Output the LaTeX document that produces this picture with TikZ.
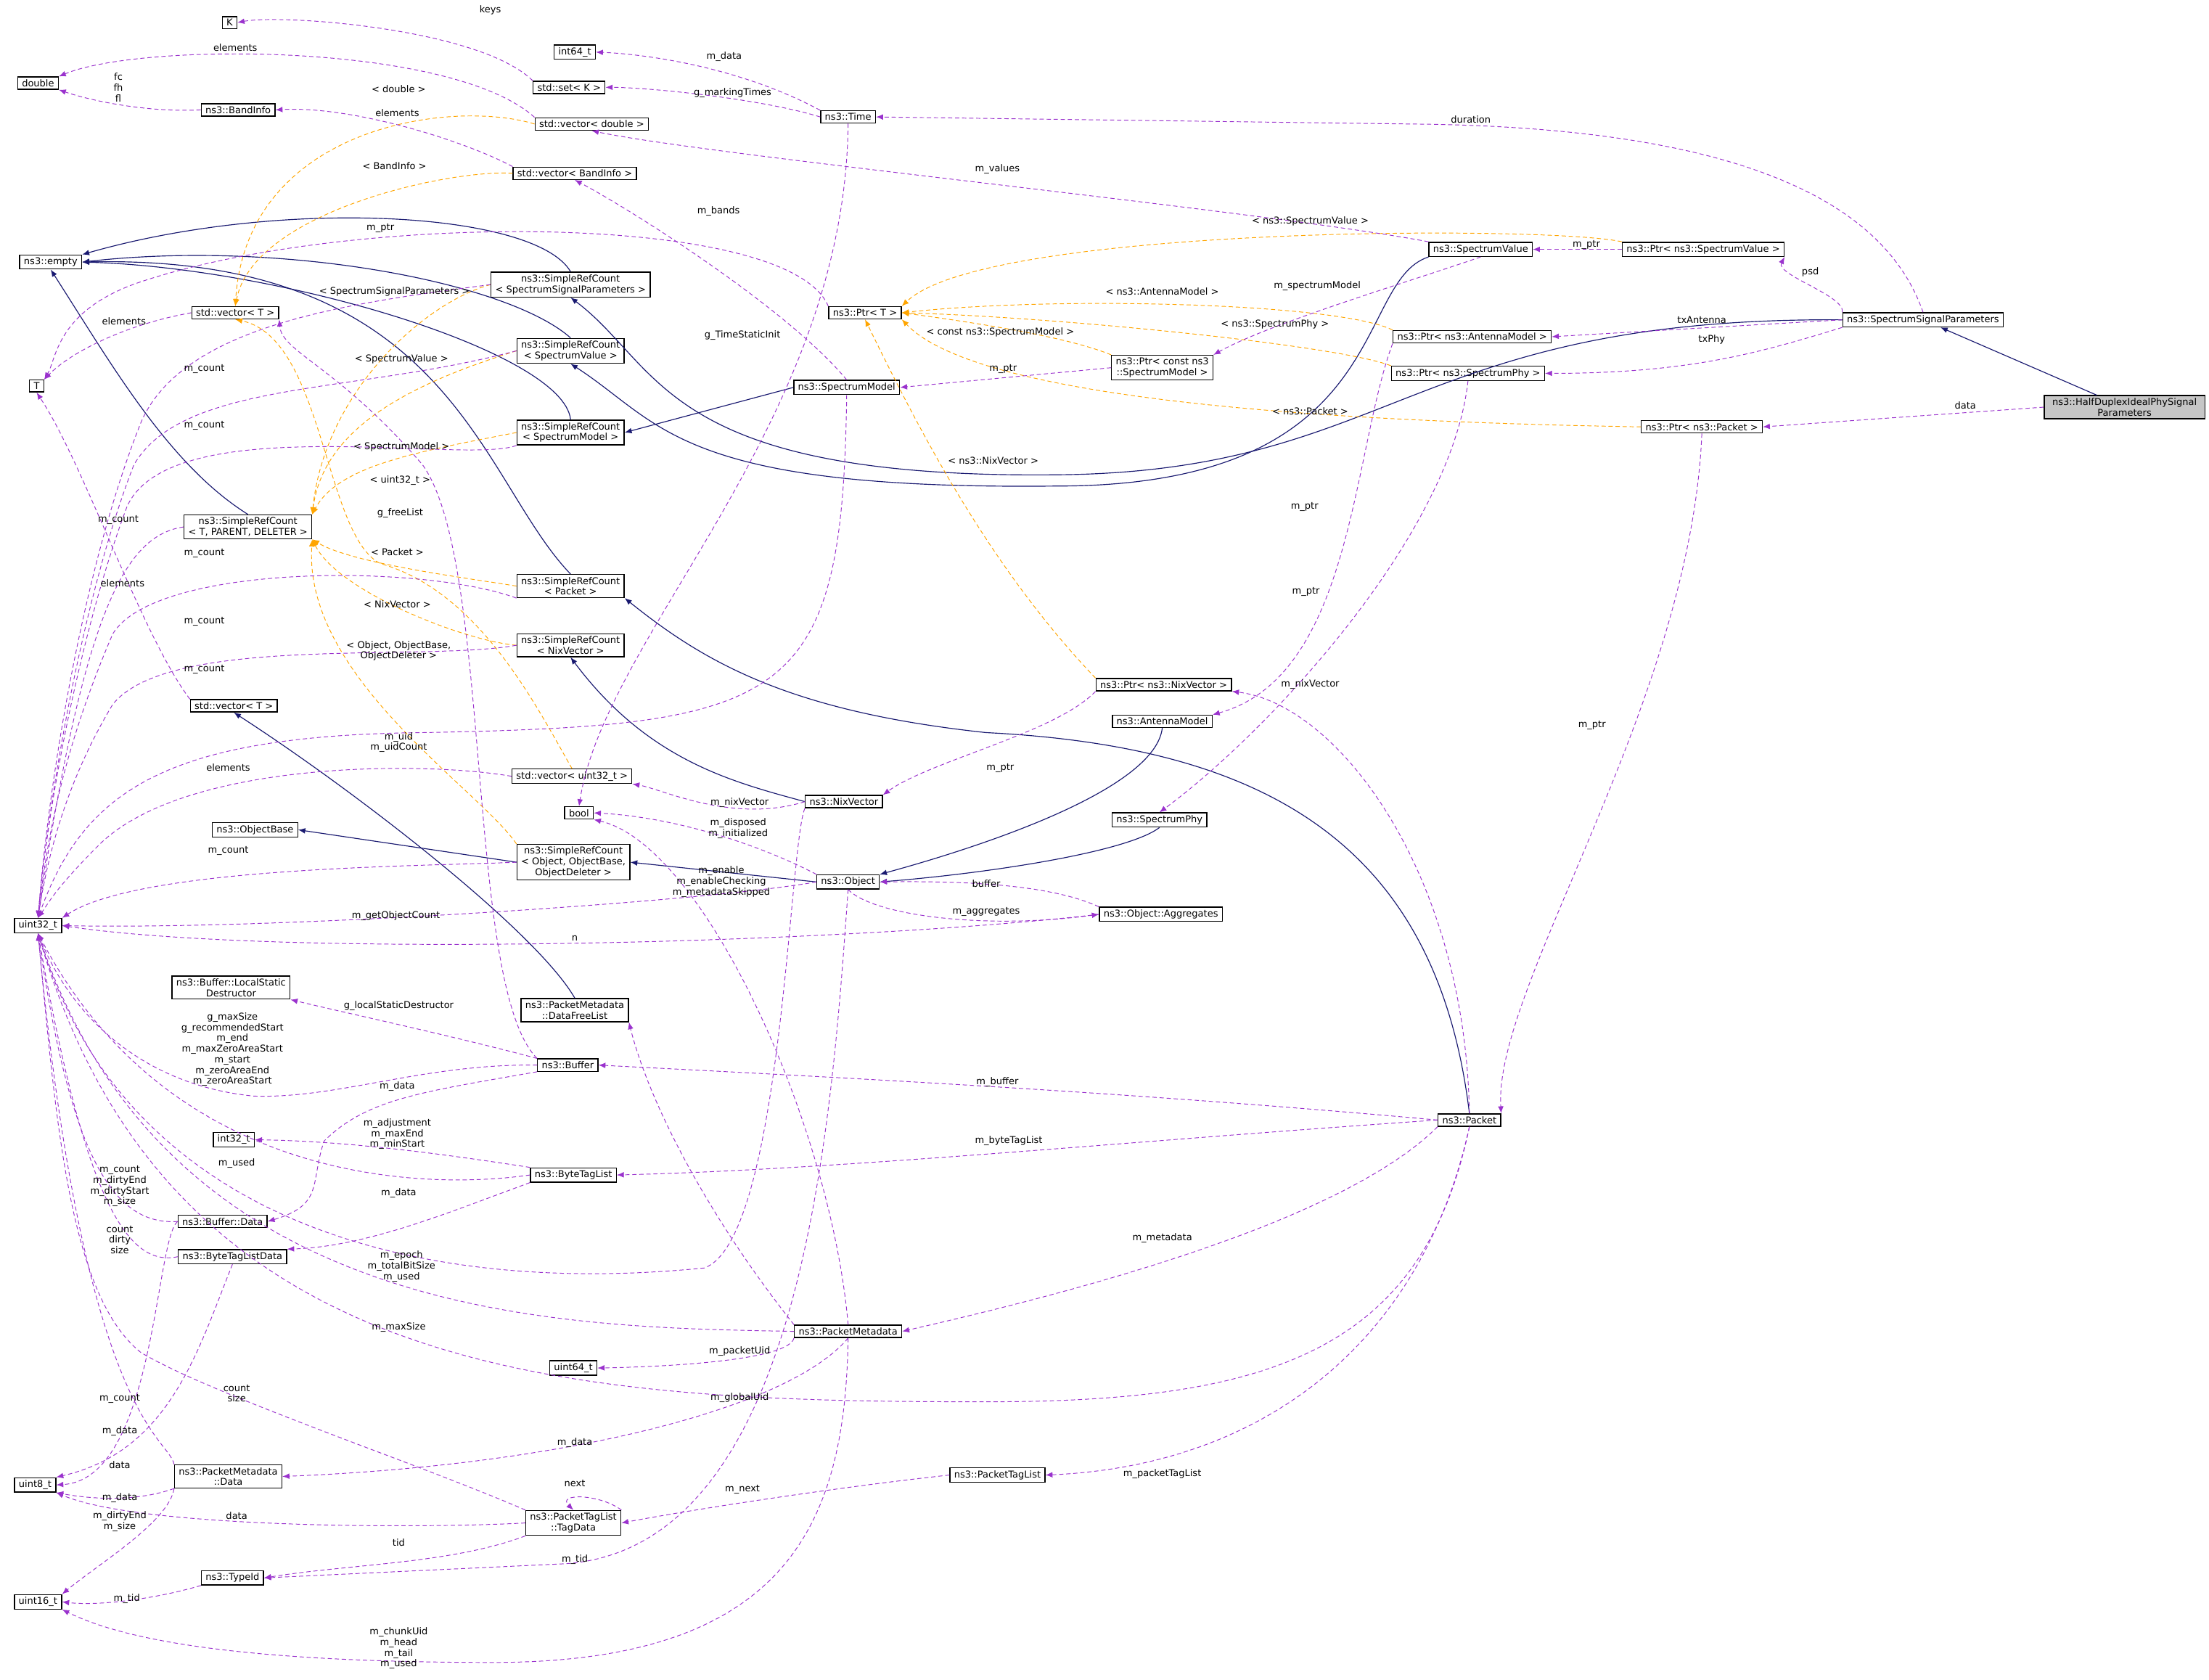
\documentclass[tikz,border=0pt]{standalone}
\usepackage{fontspec}
\setmainfont{DejaVu Sans}
\usetikzlibrary{arrows.meta}
\definecolor{inhc}{HTML}{191970}
\definecolor{memc}{HTML}{9A32CD}
\definecolor{tplc}{HTML}{FFA500}
\begin{document}
\begin{tikzpicture}[x=1pt,y=-1pt,
  every node/.style={font=\fontsize{6.7}{7.6}\selectfont},
  cls/.style={draw=black,line width=0.7pt,fill=white,inner xsep=3pt,inner ysep=1.8pt,align=center},
  lbl/.style={align=center,inner sep=0pt},
  inh/.style={draw=inhc,line width=0.6pt,-{Latex[length=5pt,width=4pt]}},
  mem/.style={draw=memc,line width=0.5pt,dash pattern=on 3pt off 2pt,-{Latex[length=5pt,width=4pt]}},
  tpl/.style={draw=tplc,line width=0.5pt,dash pattern=on 3pt off 2pt,-{Latex[length=5pt,width=4pt]}}]
\useasboundingbox (0,0) rectangle (1568,1192);
% nodes
\node[cls,fill=gray!45,text width=108pt] (hd) at (1508,289) {ns3::HalfDuplexIdealPhySignal\\Parameters};
\node[cls] (ssp) at (1365,227) {ns3::SpectrumSignalParameters};
\node[cls] (psv) at (1209,177) {ns3::Ptr< ns3::SpectrumValue >};
\node[cls] (sv) at (1051,177) {ns3::SpectrumValue};
\node[cls] (pam) at (1045,239) {ns3::Ptr< ns3::AntennaModel >};
\node[cls] (psp) at (1042,265) {ns3::Ptr< ns3::SpectrumPhy >};
\node[cls] (ppk) at (1208,303) {ns3::Ptr< ns3::Packet >};
\node[cls] (ptrT) at (614,222) {ns3::Ptr< T >};
\node[cls] (pcsm) at (825,261) {ns3::Ptr< const ns3\\::SpectrumModel >};
\node[cls] (sm) at (601,275) {ns3::SpectrumModel};
\node[cls] (time) at (602,83) {ns3::Time};
\node[cls] (i64) at (408,37) {int64\_t};
\node[cls] (setK) at (404,62) {std::set< K >};
\node[cls] (K) at (163,16) {K};
\node[cls] (dbl) at (27,59) {double};
\node[cls] (band) at (169,78) {ns3::BandInfo};
\node[cls] (vdbl) at (420,88) {std::vector< double >};
\node[cls] (vband) at (408,123) {std::vector< BandInfo >};
\node[cls] (empty) at (36,186) {ns3::empty};
\node[cls] (srcssp) at (405,202) {ns3::SimpleRefCount\\< SpectrumSignalParameters >};
\node[cls] (vT) at (167,222) {std::vector< T >};
\node[cls] (T) at (26,274) {T};
\node[cls] (srcsv) at (405,249) {ns3::SimpleRefCount\\< SpectrumValue >};
\node[cls] (srcsm) at (405,307) {ns3::SimpleRefCount\\< SpectrumModel >};
\node[cls] (srctpd) at (176,374) {ns3::SimpleRefCount\\< T, PARENT, DELETER >};
\node[cls] (srcpk) at (405,416) {ns3::SimpleRefCount\\< Packet >};
\node[cls] (srcnv) at (405,458) {ns3::SimpleRefCount\\< NixVector >};
\node[cls] (vT2) at (166,501) {std::vector< T >};
\node[cls] (pnv) at (826,486) {ns3::Ptr< ns3::NixVector >};
\node[cls] (am) at (825,512) {ns3::AntennaModel};
\node[cls] (vu32) at (406,551) {std::vector< uint32\_t >};
\node[cls] (nv) at (599,569) {ns3::NixVector};
\node[cls] (bool) at (411,577) {bool};
\node[cls] (sphy) at (823,582) {ns3::SpectrumPhy};
\node[cls] (obase) at (181,589) {ns3::ObjectBase};
\node[cls] (srcobj) at (407,612) {ns3::SimpleRefCount\\< Object, ObjectBase,\\ObjectDeleter >};
\node[cls] (obj) at (602,626) {ns3::Object};
\node[cls] (aggr) at (824,649) {ns3::Object::Aggregates};
\node[cls] (u32) at (27,657) {uint32\_t};
\node[cls] (lsd) at (164,701) {ns3::Buffer::LocalStatic\\Destructor};
\node[cls] (dfl) at (408,717) {ns3::PacketMetadata\\::DataFreeList};
\node[cls] (buf) at (403,756) {ns3::Buffer};
\node[cls] (pkt) at (1043,795) {ns3::Packet};
\node[cls] (i32) at (166,809) {int32\_t};
\node[cls] (btl) at (407,834) {ns3::ByteTagList};
\node[cls] (bdata) at (158,867) {ns3::Buffer::Data};
\node[cls] (btld) at (165,892) {ns3::ByteTagListData};
\node[cls] (pm) at (602,945) {ns3::PacketMetadata};
\node[cls] (u64) at (407,971) {uint64\_t};
\node[cls] (ptl) at (708,1047) {ns3::PacketTagList};
\node[cls] (u8) at (25,1054) {uint8\_t};
\node[cls] (pmd) at (162,1048) {ns3::PacketMetadata\\::Data};
\node[cls] (td) at (407,1081) {ns3::PacketTagList\\::TagData};
\node[cls] (tid) at (165,1120) {ns3::TypeId};
\node[cls] (u16) at (27,1137) {uint16\_t};
% inheritance
\draw[inh] (hd) -- (ssp);
\draw[inh] (ssp.west) .. controls (1000,225) and (990,335) .. (750,337) .. controls (470,340) and (470,260) .. (srcssp.south);
\draw[inh] (sv.south west) .. controls (960,200) and (990,345) .. (750,345) .. controls (480,348) and (470,300) .. (srcsv.south);
\draw[inh] (srcssp.north) .. controls (380,150) and (200,140) .. (empty.north east);
\draw[inh] (srcsv.north) .. controls (360,200) and (200,170) .. (empty.east);
\draw[inh] (srcsm.north) .. controls (400,250) and (200,190) .. (empty.east);
\draw[inh] (srcpk.north) .. controls (340,340) and (320,180) .. (empty.east);
\draw[inh] (srctpd.north) .. controls (120,330) and (80,260) .. (empty.south);
\draw[inh] (sm.west) -- (srcsm.east);
\draw[inh] (pkt.north) .. controls (1020,600) and (900,530) .. (700,520) .. controls (560,505) and (500,470) .. (srcpk.south east);
\draw[inh] (nv.west) .. controls (520,555) and (460,540) .. (srcnv.south);
\draw[inh] (obj.west) -- (srcobj.east);
\draw[inh] (am.south) .. controls (820,560) and (700,600) .. (obj.north east);
\draw[inh] (sphy.south) .. controls (800,605) and (700,620) .. (obj.east);
\draw[inh] (srcobj.west) -- (obase.east);
\draw[inh] (dfl.north) .. controls (380,660) and (250,560) .. (vT2.south);
% templates
\draw[tpl] (psv.north west) .. controls (1100,160) and (700,160) .. (ptrT.north east);
\draw[tpl] (pam.north west) .. controls (950,215) and (750,210) .. (ptrT.east);
\draw[tpl] (psp.north west) .. controls (950,245) and (750,225) .. (ptrT.east);
\draw[tpl] (pcsm.north west) .. controls (760,240) and (700,230) .. (ptrT.east);
\draw[tpl] (ppk.west) .. controls (1000,300) and (700,290) .. (ptrT.south east);
\draw[tpl] (pnv.north west) .. controls (700,400) and (650,300) .. (ptrT.south);
\draw[tpl] (vdbl.west) .. controls (320,70) and (175,90) .. (vT.north);
\draw[tpl] (vband.west) .. controls (320,120) and (180,150) .. (vT.north);
\draw[tpl] (vu32.north) .. controls (380,500) and (340,420) .. (270,400) .. controls (230,380) and (230,240) .. (vT.south);
\draw[tpl] (srcssp.west) .. controls (300,215) and (230,280) .. (srctpd.north east);
\draw[tpl] (srcsv.west) .. controls (300,270) and (230,300) .. (srctpd.north east);
\draw[tpl] (srcsm.west) .. controls (300,320) and (240,330) .. (srctpd.north east);
\draw[tpl] (srcpk.west) .. controls (330,410) and (250,400) .. (srctpd.south east);
\draw[tpl] (srcnv.west) .. controls (330,455) and (240,420) .. (srctpd.south east);
\draw[tpl] (srcobj.north west) .. controls (340,560) and (215,480) .. (srctpd.south east);
% members
\draw[mem] (hd.west) -- (ppk.east);
\draw[mem] (ssp.north west) .. controls (1310,210) and (1260,195) .. (psv.south east);
\draw[mem] (ssp.west) -- (pam.east);
\draw[mem] (ssp.south west) .. controls (1250,250) and (1200,265) .. (psp.east);
\draw[mem] (ssp.north) .. controls (1340,150) and (1250,90) .. (1000,88) -- (time.east);
\draw[mem] (psv.west) -- (sv.east);
\draw[mem] (sv.north west) .. controls (900,150) and (500,110) .. (vdbl.south);
\draw[mem] (sv.south) .. controls (1000,200) and (900,230) .. (pcsm.north east);
\draw[mem] (pcsm.west) -- (sm.east);
\draw[mem] (sm.north) .. controls (560,220) and (450,150) .. (vband.south);
\draw[mem] (sm.south) .. controls (598,500) and (560,515) .. (300,520) .. controls (120,522) and (60,560) .. (u32.north);
\draw[mem] (time.north west) .. controls (520,45) and (450,38) .. (i64.east);
\draw[mem] (time.west) .. controls (540,70) and (460,62) .. (setK.east);
\draw[mem] (time.south) .. controls (600,300) and (430,450) .. (bool.north);
\draw[mem] (setK.north west) .. controls (340,20) and (200,10) .. (K.east);
\draw[mem] (vdbl.north west) .. controls (320,30) and (100,30) .. (dbl.north east);
\draw[mem] (band.west) .. controls (100,80) and (60,70) .. (dbl.south east);
\draw[mem] (vband.north west) .. controls (330,100) and (250,75) .. (band.east);
\draw[mem] (ptrT.north west) .. controls (560,150) and (250,150) .. (100,200) .. controls (40,220) and (40,255) .. (T.north east);
\draw[mem] (vT.west) .. controls (90,230) and (50,250) .. (T.north east);
\draw[mem] (vT2.north west) .. controls (100,450) and (60,330) .. (T.south);
\draw[mem] (pam.south west) .. controls (960,320) and (960,480) .. (am.north east);
\draw[mem] (psp.south) .. controls (1030,380) and (900,520) .. (sphy.north);
\draw[mem] (ppk.south) .. controls (1200,500) and (1060,700) .. (pkt.north east);
\draw[mem] (pnv.south west) .. controls (750,520) and (660,540) .. (nv.north east);
\draw[mem] (pkt.north) .. controls (1040,620) and (950,500) .. (pnv.south east);
\draw[mem] (pkt.west) .. controls (800,775) and (600,765) .. (buf.east);
\draw[mem] (pkt.west) .. controls (800,810) and (600,830) .. (btl.east);
\draw[mem] (pkt.south west) .. controls (950,870) and (750,920) .. (pm.east);
\draw[mem] (pkt.south) .. controls (1010,950) and (900,1040) .. (ptl.east);
\draw[mem] (pkt.south) .. controls (1010,960) and (900,995) .. (700,995) .. controls (400,995) and (120,980) .. (u32.south);
% m_count edges
\draw[mem] (srcssp.west) .. controls (250,215) and (130,230) .. (100,300) .. controls (60,400) and (35,550) .. (u32.north);
\draw[mem] (srcsv.west) .. controls (250,280) and (130,270) .. (95,330) .. controls (60,420) and (35,560) .. (u32.north);
\draw[mem] (srcsm.south west) .. controls (330,330) and (120,290) .. (90,360) .. controls (60,440) and (35,560) .. (u32.north);
\draw[mem] (srctpd.west) .. controls (90,380) and (60,430) .. (u32.north);
\draw[mem] (srcpk.south west) .. controls (300,400) and (110,400) .. (80,450) .. controls (50,520) and (35,580) .. (u32.north);
\draw[mem] (srcnv.west) .. controls (300,470) and (120,450) .. (80,500) .. controls (50,550) and (35,600) .. (u32.north);
\draw[mem] (srcobj.west) .. controls (300,615) and (100,615) .. (u32.north east);
\draw[mem] (vu32.west) .. controls (300,540) and (130,540) .. (70,600) .. controls (40,630) and (35,640) .. (u32.north);
% nixvector
\draw[mem] (nv.west) .. controls (520,585) and (470,560) .. (vu32.south east);
\draw[mem] (nv.south west) .. controls (560,600) and (555,880) .. (500,900) .. controls (300,920) and (90,870) .. (u32.south);
% object
\draw[mem] (obj.north west) .. controls (540,600) and (480,580) .. (bool.east);
\draw[mem] (obj.west) .. controls (500,640) and (200,660) .. (u32.east);
\draw[mem] (obj.south) .. controls (620,650) and (700,660) .. (aggr.west);
\draw[mem] (aggr.north west) .. controls (750,630) and (700,625) .. (obj.east);
\draw[mem] (aggr.west) .. controls (600,670) and (200,680) .. (u32.east);
\draw[mem] (obj.south) .. controls (590,800) and (570,1100) .. (400,1110) -- (tid.east);
% packet metadata
\draw[mem] (pm.north) .. controls (590,800) and (500,600) .. (bool.south east);
\draw[mem] (pm.north west) .. controls (500,860) and (460,780) .. (dfl.south east);
\draw[mem] (pm.west) .. controls (400,942) and (120,940) .. (u32.south);
\draw[mem] (pm.south west) .. controls (560,965) and (480,970) .. (u64.east);
\draw[mem] (pm.south) .. controls (560,1000) and (400,1040) .. (pmd.east);
\draw[mem] (pm.south) .. controls (600,1080) and (560,1180) .. (350,1180) .. controls (150,1180) and (80,1160) .. (u16.south east);
% buffer
\draw[mem] (buf.north west) .. controls (320,735) and (250,720) .. (lsd.south east);
\draw[mem] (buf.west) .. controls (300,755) and (240,780) .. (180,778) .. controls (100,770) and (50,720) .. (u32.south);
\draw[mem] (buf.south west) .. controls (300,775) and (260,780) .. (230,810) .. controls (220,840) and (230,855) .. (bdata.east);
\draw[mem] (buf.north west) .. controls (330,700) and (350,400) .. (300,330) .. controls (240,260) and (200,250) .. (vT.south east);
% bytetaglist
\draw[mem] (btl.north west) .. controls (320,820) and (250,810) .. (i32.east);
\draw[mem] (btl.west) .. controls (300,845) and (120,840) .. (u32.south);
\draw[mem] (btl.south west) .. controls (320,860) and (260,885) .. (btld.north east);
% buffer data etc
\draw[mem] (bdata.west) .. controls (80,870) and (50,820) .. (u32.south);
\draw[mem] (bdata.west) .. controls (110,880) and (110,1050) .. (u8.east);
\draw[mem] (btld.west) .. controls (90,900) and (60,850) .. (u32.south);
\draw[mem] (btld.south) .. controls (140,960) and (120,1030) .. (u8.north east);
\draw[mem] (pmd.north west) .. controls (120,1020) and (60,1010) .. (u32.south);
\draw[mem] (pmd.south west) .. controls (100,1065) and (70,1065) .. (u8.south east);
\draw[mem] (pmd.south west) .. controls (120,1080) and (70,1110) .. (u16.north east);
% tag data
\draw[mem] (ptl.west) .. controls (600,1055) and (500,1070) .. (td.east);
\draw[mem] (td.north east) .. controls (425,1060) and (395,1060) .. (td.north);
\draw[mem] (td.north west) .. controls (300,1040) and (150,990) .. (100,960) .. controls (50,920) and (40,800) .. (u32.south);
\draw[mem] (td.west) .. controls (300,1085) and (100,1085) .. (u8.south east);
\draw[mem] (td.south west) .. controls (320,1110) and (250,1110) .. (tid.east);
\draw[mem] (tid.south west) .. controls (110,1135) and (70,1140) .. (u16.east);
% labels
\node[lbl] at (348,7) {keys};
\node[lbl] at (167,34) {elements};
\node[lbl] at (84,62) {fc\\fh\\fl};
\node[lbl] at (282,80) {elements};
\node[lbl] at (283,63) {< double >};
\node[lbl] at (514,40) {m\_data};
\node[lbl] at (520,66) {g\_markingTimes};
\node[lbl] at (1044,85) {duration};
\node[lbl] at (708,120) {m\_values};
\node[lbl] at (280,118) {< BandInfo >};
\node[lbl] at (270,162) {m\_ptr};
\node[lbl] at (510,150) {m\_bands};
\node[lbl] at (930,157) {< ns3::SpectrumValue >};
\node[lbl] at (1126,174) {m\_ptr};
\node[lbl] at (1285,193) {psd};
\node[lbl] at (935,203) {m\_spectrumModel};
\node[lbl] at (825,207) {< ns3::AntennaModel >};
\node[lbl] at (280,207) {< SpectrumSignalParameters >};
\node[lbl] at (1208,227) {txAntenna};
\node[lbl] at (905,230) {< ns3::SpectrumPhy >};
\node[lbl] at (710,236) {< const ns3::SpectrumModel >};
\node[lbl] at (1215,241) {txPhy};
\node[lbl] at (88,228) {elements};
\node[lbl] at (285,255) {< SpectrumValue >};
\node[lbl] at (527,238) {g\_TimeStaticInit};
\node[lbl] at (712,262) {m\_ptr};
\node[lbl] at (145,262) {m\_count};
\node[lbl] at (930,292) {< ns3::Packet >};
\node[lbl] at (1395,288) {data};
\node[lbl] at (145,302) {m\_count};
\node[lbl] at (285,317) {< SpectrumModel >};
\node[lbl] at (705,327) {< ns3::NixVector >};
\node[lbl] at (284,341) {< uint32\_t >};
\node[lbl] at (926,360) {m\_ptr};
\node[lbl] at (84,369) {m\_count};
\node[lbl] at (284,364) {g\_freeList};
\node[lbl] at (145,393) {m\_count};
\node[lbl] at (282,392) {< Packet >};
\node[lbl] at (87,414) {elements};
\node[lbl] at (927,420) {m\_ptr};
\node[lbl] at (282,429) {< NixVector >};
\node[lbl] at (145,441) {m\_count};
\node[lbl] at (283,462) {< Object, ObjectBase,\\ObjectDeleter >};
\node[lbl] at (145,475) {m\_count};
\node[lbl] at (930,486) {m\_nixVector};
\node[lbl] at (1130,515) {m\_ptr};
\node[lbl] at (283,527) {m\_uid\\m\_uidCount};
\node[lbl] at (162,545) {elements};
\node[lbl] at (710,545) {m\_ptr};
\node[lbl] at (525,570) {m\_nixVector};
\node[lbl] at (524,588) {m\_disposed\\m\_initialized};
\node[lbl] at (162,604) {m\_count};
\node[lbl] at (512,626) {m\_enable\\m\_enableChecking\\m\_metadataSkipped};
\node[lbl] at (700,627) {buffer};
\node[lbl] at (281,650) {m\_getObjectCount};
\node[lbl] at (700,647) {m\_aggregates};
\node[lbl] at (408,666) {n};
\node[lbl] at (283,714) {g\_localStaticDestructor};
\node[lbl] at (165,745) {g\_maxSize\\g\_recommendedStart\\m\_end\\m\_maxZeroAreaStart\\m\_start\\m\_zeroAreaEnd\\m\_zeroAreaStart};
\node[lbl] at (282,771) {m\_data};
\node[lbl] at (708,768) {m\_buffer};
\node[lbl] at (282,805) {m\_adjustment\\m\_maxEnd\\m\_minStart};
\node[lbl] at (716,810) {m\_byteTagList};
\node[lbl] at (168,826) {m\_used};
\node[lbl] at (85,842) {m\_count\\m\_dirtyEnd\\m\_dirtyStart\\m\_size};
\node[lbl] at (283,847) {m\_data};
\node[lbl] at (85,880) {count\\dirty\\size};
\node[lbl] at (825,879) {m\_metadata};
\node[lbl] at (285,899) {m\_epoch\\m\_totalBitSize\\m\_used};
\node[lbl] at (283,942) {m\_maxSize};
\node[lbl] at (525,959) {m\_packetUid};
\node[lbl] at (168,989) {count\\size};
\node[lbl] at (525,992) {m\_globalUid};
\node[lbl] at (85,993) {m\_count};
\node[lbl] at (85,1016) {m\_data};
\node[lbl] at (408,1024) {m\_data};
\node[lbl] at (85,1040) {data};
\node[lbl] at (825,1046) {m\_packetTagList};
\node[lbl] at (408,1053) {next};
\node[lbl] at (527,1057) {m\_next};
\node[lbl] at (85,1063) {m\_data};
\node[lbl] at (85,1080) {m\_dirtyEnd\\m\_size};
\node[lbl] at (168,1076) {data};
\node[lbl] at (283,1095) {tid};
\node[lbl] at (408,1107) {m\_tid};
\node[lbl] at (90,1135) {m\_tid};
\node[lbl] at (283,1170) {m\_chunkUid\\m\_head\\m\_tail\\m\_used};
\end{tikzpicture}
\end{document}
